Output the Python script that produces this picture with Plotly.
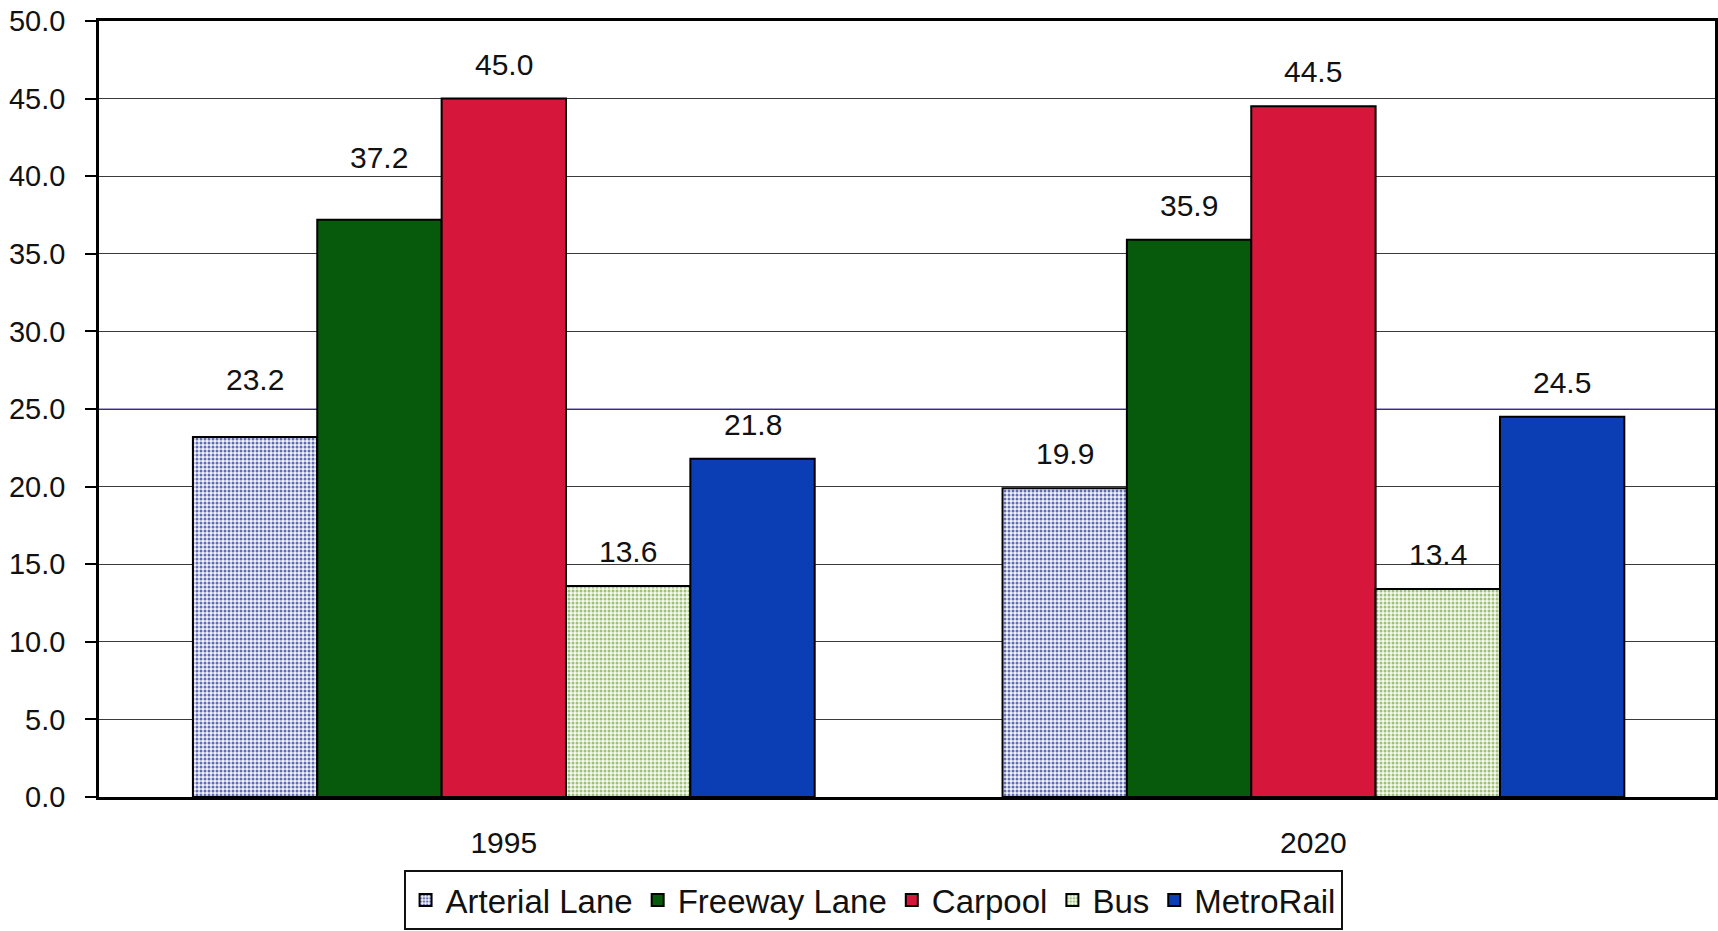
import plotly.graph_objects as go

# Travel speed by mode, 1995 vs 2020
years = ["1995", "2020"]
modes = ["Arterial Lane", "Freeway Lane", "Carpool", "Bus", "MetroRail"]
arterial = [23.2, 19.9]
freeway = [37.2, 35.9]
carpool = [45.0, 44.5]
bus = [13.6, 13.4]
metrorail = [21.8, 24.5]
y_ticks = [0, 5, 10, 15, 20, 25, 30, 35, 40, 45, 50]

series = [arterial, freeway, carpool, bus, metrorail]

FONT = "Liberation Sans, Arial, sans-serif"
BARGAP = 0.232
LABEL_SHIFT = 16
# a couple of 1995 labels sit higher to clear neighbouring bars / gridlines
label_nudge = {("Arterial Lane", 0): 23, ("Freeway Lane", 0): 28}

styles = [
    dict(color="#ffffff", pattern=dict(shape=".", fgcolor="#5f6db5", bgcolor="#f2f3fa",
                                       size=4, solidity=0.45, fillmode="replace")),
    dict(color="#075a0c"),
    dict(color="#d6173b"),
    dict(color="#ffffff", pattern=dict(shape=".", fgcolor="#9cc27a", bgcolor="#f6f9f0",
                                       size=4, solidity=0.45, fillmode="replace")),
    dict(color="#0b3db5"),
]

fig = go.Figure()
for name, vals, st in zip(modes, series, styles):
    fig.add_trace(go.Bar(
        x=years, y=vals, name=name,
        marker=dict(line=dict(color="#000000", width=2), **st),
        hoverinfo="x+y+name",
    ))

# value labels above each bar
n = len(series)
bar_w = (1 - BARGAP) / n
annotations = []
for j, (name, vals) in enumerate(zip(modes, series)):
    for i, v in enumerate(vals):
        annotations.append(dict(
            x=i - (1 - BARGAP) / 2 + (j + 0.5) * bar_w, y=v,
            xref="x", yref="y", text=f"{v:.1f}", showarrow=False,
            yanchor="bottom", yshift=LABEL_SHIFT + label_nudge.get((name, i), 0),
            font=dict(family=FONT, size=30, color="#111111"),
        ))

fig.update_layout(
    width=1718, height=931,
    margin=dict(l=99, r=0, t=21, b=134),
    paper_bgcolor="#ffffff", plot_bgcolor="#ffffff",
    barmode="group", bargap=BARGAP, bargroupgap=0,
    font=dict(family=FONT, color="#111111"),
    annotations=annotations,
    shapes=[dict(type="line", xref="paper", yref="y", x0=0, x1=1, y0=25, y1=25,
                 line=dict(color="#4b44a6", width=1.2), layer="below")],
    legend=dict(
        orientation="h", x=0.479, xanchor="center", y=-0.094, yanchor="top",
        bordercolor="#111111", borderwidth=2, bgcolor="#ffffff",
        font=dict(family=FONT, size=33, color="#111111"),
        itemwidth=30, tracegroupgap=0,
    ),
    xaxis=dict(
        type="category", range=[-0.5, 1.496],
        showline=True, linecolor="#000000", linewidth=3, mirror=True,
        ticks="", showgrid=False,
        tickfont=dict(family=FONT, size=30, color="#111111"),
        ticklabelstandoff=17,
    ),
    yaxis=dict(
        range=[0, 50], tickvals=y_ticks, tickformat=".1f",
        showline=True, linecolor="#000000", linewidth=2.5, mirror=True,
        ticks="outside", ticklen=11, tickwidth=1.5, tickcolor="#000000",
        showgrid=True, gridcolor="#3a3a3a", gridwidth=1,
        zeroline=False,
        tickfont=dict(family=FONT, size=29, color="#111111"),
        ticklabelstandoff=14,
    ),
)

fig.write_html("out.html")
